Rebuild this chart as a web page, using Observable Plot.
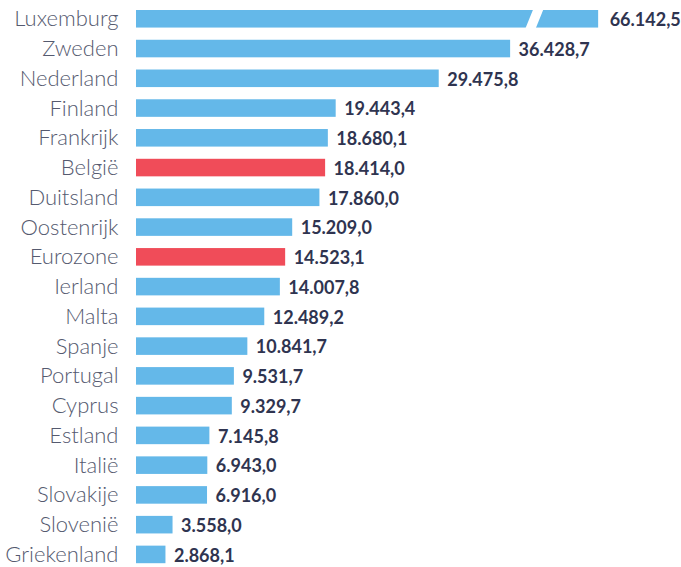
<!DOCTYPE html>
<html>
<head>
<meta charset="utf-8">
<script src="https://cdn.jsdelivr.net/npm/d3@7"></script>
<script src="https://cdn.jsdelivr.net/npm/@observablehq/plot@0.6"></script>
<style>
  html, body { margin: 0; padding: 0; background: #fff; overflow: hidden; }
  svg { display: block; }
</style>
</head>
<body>
<div id="chart"></div>
<script>
const countries = ["Luxemburg","Zweden","Nederland","Finland","Frankrijk","België","Duitsland","Oostenrijk","Eurozone","Ierland","Malta","Spanje","Portugal","Cyprus","Estland","Italië","Slovakije","Slovenië","Griekenland"];
const values = [66142.5,36428.7,29475.8,19443.4,18680.1,18414.0,17860.0,15209.0,14523.1,14007.8,12489.2,10841.7,9531.7,9329.7,7145.8,6943.0,6916.0,3558.0,2868.1];
const highlighted = ["België","Eurozone"];
// axis break: values above this are shown capped, with a break in the bar
const displayCap = 45000;
const breakFrom = 38300;
const breakTo = 39300;

const nl = d3.formatLocale({decimal: ",", thousands: ".", grouping: [3]});
const fmt = nl.format(",.1f");

const data = countries.map((c, i) => ({
  country: c,
  value: values[i],
  shown: Math.min(values[i], displayCap),
  hl: highlighted.includes(c)
}));
const broken = data.filter(d => d.value > displayCap);
const normal = data.filter(d => d.value <= displayCap);

const skewRender = (index, scales, values, dimensions, context, next) => {
  const g = next(index, scales, values, dimensions, context);
  g.querySelectorAll("rect").forEach(r => {
    const y = +r.getAttribute("y"), h = +r.getAttribute("height");
    const cy = y + h / 2;
    r.setAttribute("transform", `translate(0,${cy}) skewX(-22) translate(0,${-cy})`);
  });
  return g;
};

const textStyle = {
  y: "country", x: "shown",
  text: d => fmt(d.value),
  textAnchor: "start",
  dy: 1,
  fontSize: 18, fontWeight: 700, fill: "#2f3450"
};

const chart = Plot.plot({
  width: 681,
  height: 567,
  marginLeft: 136,
  marginRight: 0,
  marginTop: 0,
  marginBottom: 0,
  style: {fontFamily: "Lato, 'Noto Sans', sans-serif", background: "#fff", overflow: "visible"},
  x: {domain: [0, 50000], range: [136, 649.5], axis: null},
  y: {domain: countries, range: [-2.2, 575.4], padding: 0.41, round: false, label: null},
  marks: [
    Plot.barX(data, {
      y: "country", x: "shown",
      fill: d => d.hl ? "#f04c59" : "#64b8e9"
    }),
    Plot.barX(broken, {
      y: "country", x1: () => breakFrom, x2: () => breakTo,
      fill: "#fff", insetTop: -2, insetBottom: -2,
      render: skewRender
    }),
    Plot.text(normal, {...textStyle, dx: 8}),
    Plot.text(broken, {...textStyle, dx: 11}),
    Plot.axisY({
      tickSize: 0, tickPadding: 18,
      fontSize: 22, fontWeight: 300, fill: "#555a6f",
      label: null
    })
  ]
});
document.getElementById("chart").appendChild(chart);
</script>
</body>
</html>
